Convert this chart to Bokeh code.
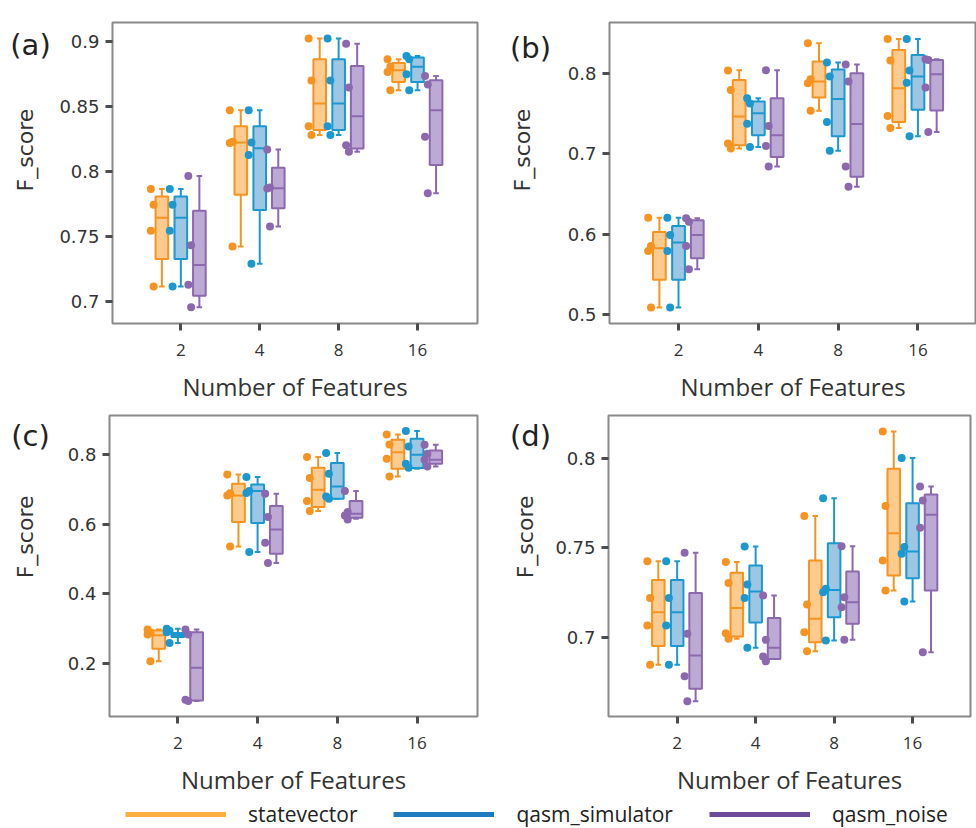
import math
from bokeh.plotting import figure
from bokeh.models import FixedTicker, Range1d, Legend, LegendItem
from bokeh.layouts import column, row
from bokeh.embed import file_html
from bokeh.resources import INLINE
from bokeh.core.properties import value

CATEGORIES = ["2", "4", "8", "16"]
SERIES = ["statevector", "qasm_simulator", "qasm_noise"]

# box statistics per category: [lower whisker, Q1, median, Q3, upper whisker]
# ---- panel (a)
A_STATE_BOX = [[0.7115, 0.7328, 0.7646, 0.7808, 0.7867], [0.7423, 0.7823, 0.8226, 0.8351, 0.8474],
               [0.8282, 0.8321, 0.8526, 0.8867, 0.9026], [0.8628, 0.8692, 0.8782, 0.8838, 0.8867]]
A_STATE_PTS = [[0.7867, 0.7746, 0.7544, 0.7115], [0.8474, 0.8230, 0.8222, 0.7423],
               [0.9026, 0.8703, 0.8351, 0.8282], [0.8867, 0.8808, 0.8769, 0.8628]]
A_SIM_BOX = [[0.7115, 0.7328, 0.7646, 0.7808, 0.7867], [0.7290, 0.7705, 0.8180, 0.8351, 0.8474],
             [0.8282, 0.8321, 0.8526, 0.8867, 0.9026], [0.8628, 0.8692, 0.8808, 0.8880, 0.8892]]
A_SIM_PTS = [[0.7867, 0.7746, 0.7544, 0.7115], [0.8474, 0.8226, 0.8128, 0.7290],
             [0.9026, 0.8703, 0.8351, 0.8282], [0.8892, 0.8867, 0.8751, 0.8628]]
A_NOISE_BOX = [[0.6956, 0.7044, 0.7280, 0.7700, 0.7967], [0.7577, 0.7718, 0.7872, 0.8031, 0.8172],
               [0.8154, 0.8179, 0.8428, 0.8815, 0.8987], [0.7833, 0.8051, 0.8474, 0.8705, 0.8738]]
A_NOISE_PTS = [[0.7967, 0.7433, 0.7128, 0.6956], [0.8172, 0.7879, 0.7870, 0.7577],
               [0.8987, 0.8649, 0.8203, 0.8154], [0.8738, 0.8672, 0.8269, 0.7833]]
# ---- panel (b)
B_STATE_BOX = [[0.5090, 0.5433, 0.5825, 0.6027, 0.6205], [0.7063, 0.7104, 0.7463, 0.7917, 0.8037],
               [0.7534, 0.7699, 0.7897, 0.8144, 0.8371], [0.7319, 0.7393, 0.7814, 0.8289, 0.8425]]
B_STATE_PTS = [[0.6205, 0.5854, 0.5792, 0.5090], [0.8033, 0.7790, 0.7125, 0.7063],
               [0.8371, 0.7926, 0.7876, 0.7534], [0.8425, 0.8157, 0.7468, 0.7319]]
B_SIM_BOX = [[0.5090, 0.5433, 0.5895, 0.6102, 0.6205], [0.7084, 0.7228, 0.7501, 0.7649, 0.7690],
             [0.7038, 0.7216, 0.7678, 0.8045, 0.8132], [0.7216, 0.7546, 0.7959, 0.8227, 0.8425]]
B_SIM_PTS = [[0.6205, 0.5990, 0.5792, 0.5090], [0.7690, 0.7624, 0.7373, 0.7084],
             [0.8132, 0.7959, 0.7393, 0.7038], [0.8425, 0.8033, 0.7880, 0.7216]]
B_NOISE_BOX = [[0.5565, 0.5701, 0.5990, 0.6172, 0.6197], [0.6840, 0.6960, 0.7228, 0.7690, 0.8037],
               [0.6589, 0.6712, 0.7369, 0.8000, 0.8107], [0.7270, 0.7538, 0.7988, 0.8165, 0.8173]]
B_NOISE_PTS = [[0.6197, 0.6155, 0.5854, 0.5565], [0.8037, 0.7344, 0.7096, 0.6840],
               [0.8107, 0.7897, 0.6840, 0.6589], [0.8173, 0.8165, 0.7823, 0.7270]]
# ---- panel (c)
C_STATE_BOX = [[0.2055, 0.2412, 0.2797, 0.2939, 0.2968], [0.5359, 0.6059, 0.6828, 0.7165, 0.7433],
               [0.6376, 0.6491, 0.6991, 0.7625, 0.7932], [0.7375, 0.7597, 0.8075, 0.8432, 0.8585]]
C_STATE_PTS = [[0.2968, 0.2880, 0.2824, 0.2055], [0.7433, 0.6894, 0.6828, 0.5359],
               [0.7932, 0.7327, 0.6664, 0.6376], [0.8585, 0.8297, 0.7885, 0.7375]]
C_SIM_BOX = [[0.2575, 0.2747, 0.2805, 0.2862, 0.2989], [0.5195, 0.6030, 0.6952, 0.7145, 0.7355],
             [0.6733, 0.6733, 0.7087, 0.7759, 0.8047], [0.7597, 0.7615, 0.8000, 0.8461, 0.8680]]
C_SIM_PTS = [[0.2989, 0.2930, 0.2890, 0.2575], [0.7355, 0.6952, 0.6900, 0.5195],
             [0.8047, 0.7452, 0.6799, 0.6733], [0.8680, 0.8239, 0.7741, 0.7626]]
C_NOISE_BOX = [[0.0903, 0.0924, 0.1865, 0.2890, 0.2968], [0.4878, 0.5148, 0.5849, 0.6520, 0.6877],
               [0.6157, 0.6185, 0.6300, 0.6664, 0.6952], [0.7663, 0.7741, 0.7856, 0.8124, 0.8288]]
C_NOISE_PTS = [[0.2968, 0.2824, 0.0943, 0.0905], [0.6877, 0.6203, 0.5465, 0.4878],
               [0.6952, 0.6347, 0.6252, 0.6137], [0.8288, 0.8029, 0.7856, 0.7663]]
# ---- panel (d)
D_STATE_BOX = [[0.6845, 0.6951, 0.7140, 0.7321, 0.7426], [0.6991, 0.7004, 0.7163, 0.7361, 0.7421],
               [0.6921, 0.6972, 0.7103, 0.7430, 0.7680], [0.7262, 0.7346, 0.7583, 0.7944, 0.8153]]
D_STATE_PTS = [[0.7426, 0.7219, 0.7065, 0.6845], [0.7421, 0.7303, 0.7022, 0.6991],
               [0.7680, 0.7183, 0.7028, 0.6921], [0.8153, 0.7735, 0.7430, 0.7262]]
D_SIM_BOX = [[0.6845, 0.6951, 0.7140, 0.7321, 0.7426], [0.6940, 0.7082, 0.7256, 0.7402, 0.7508],
             [0.6981, 0.7112, 0.7265, 0.7527, 0.7779], [0.7200, 0.7331, 0.7480, 0.7751, 0.8004]]
D_SIM_PTS = [[0.7426, 0.7219, 0.7065, 0.6845], [0.7508, 0.7295, 0.7219, 0.6940],
             [0.7779, 0.7271, 0.7252, 0.6981], [0.8004, 0.7505, 0.7467, 0.7200]]
D_NOISE_BOX = [[0.6641, 0.6710, 0.6897, 0.7247, 0.7473], [0.6877, 0.6877, 0.6940, 0.7108, 0.7234],
               [0.6985, 0.7075, 0.7196, 0.7368, 0.7510], [0.6916, 0.7262, 0.7686, 0.7800, 0.7845]]
D_NOISE_PTS = [[0.7473, 0.7019, 0.6781, 0.6641], [0.7234, 0.6985, 0.6892, 0.6865],
               [0.7510, 0.7224, 0.7168, 0.6985], [0.7845, 0.7766, 0.7613, 0.6916]]

A_YTICKS = [0.7, 0.75, 0.8, 0.85, 0.9]
B_YTICKS = [0.5, 0.6, 0.7, 0.8]
C_YTICKS = [0.2, 0.4, 0.6, 0.8]
D_YTICKS = [0.7, 0.75, 0.8]
PANEL_TAGS = ["(a)", "(b)", "(c)", "(d)"]
Y_LABEL = "F_score"
X_LABEL = "Number of Features"

# styling
LINE_COLORS = ["#F7931E", "#1B98D0", "#8C68AF"]
FILL_COLORS = ["#FDCB8E", "#9DC6E2", "#BDAAD4"]
LEGEND_COLORS = ["#FBB040", "#1F7BC0", "#6C4B9B"]
OFFSETS = [-0.24, 0.0, 0.235]
BOX_W = 0.16
CAP_HALF = 0.035
PT_SHIFT = [-0.14, -0.105]
TXT = "#333333"


def make_panel(boxes, points, yticks, xr, yr, width, height, mb_left, mb_right, mb_top, mb_bottom):
    p = figure(width=width, height=height, x_range=Range1d(*xr), y_range=Range1d(*yr),
               output_backend="svg", toolbar_location=None,
               min_border_left=mb_left, min_border_right=mb_right,
               min_border_top=mb_top, min_border_bottom=mb_bottom)
    p.xgrid.visible = False
    p.ygrid.visible = False
    p.outline_line_color = "#8A8A8A"
    p.outline_line_width = 2
    p.background_fill_color = "white"

    for s in range(3):
        box = boxes[s]
        pts = points[s]
        xs = [i + OFFSETS[s] for i in range(len(CATEGORIES))]
        lo = [b[0] for b in box]
        q1 = [b[1] for b in box]
        med = [b[2] for b in box]
        q3 = [b[3] for b in box]
        hi = [b[4] for b in box]
        lc = LINE_COLORS[s]
        p.segment(x0=xs, y0=lo, x1=xs, y1=q1, line_color=lc, line_width=2)
        p.segment(x0=xs, y0=q3, x1=xs, y1=hi, line_color=lc, line_width=2)
        p.segment(x0=[x - CAP_HALF for x in xs], y0=lo, x1=[x + CAP_HALF for x in xs], y1=lo,
                  line_color=lc, line_width=2)
        p.segment(x0=[x - CAP_HALF for x in xs], y0=hi, x1=[x + CAP_HALF for x in xs], y1=hi,
                  line_color=lc, line_width=2)
        p.vbar(x=xs, width=BOX_W, bottom=q1, top=q3, fill_color=FILL_COLORS[s],
               line_color=lc, line_width=2)
        p.segment(x0=[x - BOX_W / 2 for x in xs], y0=med, x1=[x + BOX_W / 2 for x in xs], y1=med,
                  line_color=lc, line_width=2)
        px, py = [], []
        for i, vals in enumerate(pts):
            for j, v in enumerate(vals):
                px.append(xs[i] + PT_SHIFT[j % 2])
                py.append(v)
        p.scatter(px, py, size=8, fill_color=lc, line_color=None)

    p.xaxis.ticker = FixedTicker(ticks=list(range(len(CATEGORIES))))
    p.xaxis.major_label_overrides = {i: c for i, c in enumerate(CATEGORIES)}
    p.yaxis.ticker = FixedTicker(ticks=yticks)
    p.yaxis.major_label_overrides = {t: f"{t:g}" for t in yticks}
    p.axis.axis_line_color = None
    p.axis.minor_tick_line_color = None
    p.axis.major_tick_line_color = "#4D4D4D"
    p.axis.major_tick_line_width = 3
    p.axis.major_tick_out = 7
    p.axis.major_tick_in = 0
    p.axis.major_label_text_color = TXT
    p.xaxis.major_label_text_font = "Open Sans"
    p.xaxis.major_label_text_font_size = "17px"
    p.xaxis.major_label_standoff = 13
    p.yaxis.major_label_text_font = "DejaVu Sans"
    p.yaxis.major_label_text_font_size = "18px"
    p.yaxis.major_label_standoff = 6

    p.xaxis.axis_label = X_LABEL
    p.xaxis.axis_label_text_font = "Open Sans"
    p.xaxis.axis_label_text_font_size = "24px"
    p.xaxis.axis_label_text_font_style = "normal"
    p.xaxis.axis_label_text_color = TXT
    p.xaxis.axis_label_standoff = 11
    return p


def make_side(tag, width, height, tag_x, tag_y, lab_x, lab_y):
    # narrow strip left of a panel holding the panel tag and the y-axis title
    s = figure(width=width, height=height, x_range=Range1d(0, width), y_range=Range1d(0, height),
               output_backend="svg", toolbar_location=None, min_border=0,
               x_axis_location=None, y_axis_location=None)
    s.xgrid.visible = False
    s.ygrid.visible = False
    s.outline_line_color = None
    s.text(x=[tag_x], y=[height - tag_y], text=[tag], text_font=value("DejaVu Sans"),
           text_font_size=value("29px"), text_color="#222222", text_align="center",
           text_baseline="middle")
    s.text(x=[lab_x], y=[height - lab_y], text=[Y_LABEL], angle=math.pi / 2,
           text_font=value("DejaVu Sans"), text_font_size=value("22px"), text_color=TXT,
           text_align="center", text_baseline="middle")
    return s


H1, H2 = 407, 393

sa = make_side(PANEL_TAGS[0], 52, H1, 30, 30, 25, 172.5)
pa = make_panel([A_STATE_BOX, A_SIM_BOX, A_NOISE_BOX], [A_STATE_PTS, A_SIM_PTS, A_NOISE_PTS],
                A_YTICKS, (-0.866, 3.76), (0.683, 0.915), 448, H1, 60, 23, 22, 84)
sb = make_side(PANEL_TAGS[1], 56, H1, 30, 35, 22, 172.5)
pb = make_panel([B_STATE_BOX, B_SIM_BOX, B_NOISE_BOX], [B_STATE_PTS, B_SIM_PTS, B_NOISE_PTS],
                B_YTICKS, (-0.865, 3.734), (0.489, 0.863), 420, H1, 53, 0, 22, 84)
sc = make_side(PANEL_TAGS[2], 52, H2, 30, 27, 25, 158.5)
pc = make_panel([C_STATE_BOX, C_SIM_BOX, C_NOISE_BOX], [C_STATE_PTS, C_SIM_PTS, C_NOISE_PTS],
                C_YTICKS, (-0.858, 3.759), (0.046, 0.913), 448, H2, 57, 23, 8, 84)
sd = make_side(PANEL_TAGS[3], 52, H2, 30, 27, 25, 158.5)
pd_ = make_panel([D_STATE_BOX, D_SIM_BOX, D_NOISE_BOX], [D_STATE_PTS, D_SIM_PTS, D_NOISE_PTS],
                 D_YTICKS, (-0.875, 3.738), (0.6555, 0.8243), 424, H2, 54, 6, 8, 84)

lg = figure(width=976, height=28, output_backend="svg", toolbar_location=None,
            x_range=Range1d(0, 1), y_range=Range1d(0, 1),
            x_axis_location=None, y_axis_location=None, min_border=0)
lg.xgrid.visible = False
lg.ygrid.visible = False
lg.outline_line_color = None
items = []
for s in range(3):
    r = lg.line(x=[float("nan")], y=[float("nan")], line_color=LEGEND_COLORS[s], line_width=5)
    items.append(LegendItem(label=SERIES[s], renderers=[r]))
legend = Legend(items=items, orientation="horizontal", location=(125, 0), glyph_width=101,
                glyph_height=20, label_height=20, label_standoff=22, spacing=36, padding=0, margin=0,
                border_line_color=None, background_fill_alpha=0, label_text_font="Open Sans",
                label_text_font_size="21px", label_text_color="#222222")
lg.add_layout(legend)

layout = column(row(sa, pa, sb, pb), row(sc, pc, sd, pd_), lg)
open("out.html", "w").write(file_html(layout, INLINE))
